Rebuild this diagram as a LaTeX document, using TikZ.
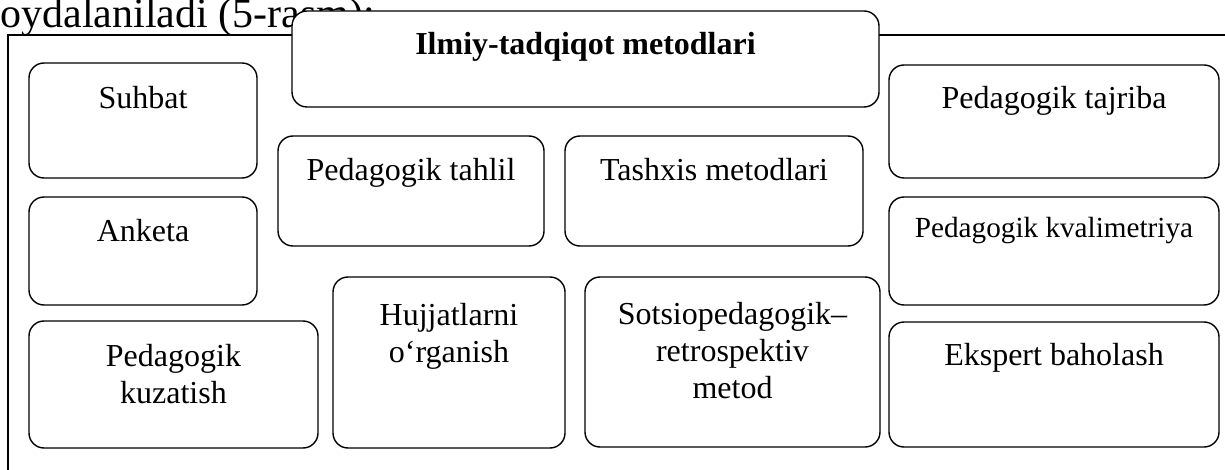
\documentclass[tikz,border=0pt]{standalone}
\usepackage{fontspec}
\setmainfont{Liberation Serif}

\begin{document}
\begin{tikzpicture}[x=0.5pt,y=-0.5pt,
  mbox/.style={draw,line width=0.7pt,rounded corners=7.5pt,fill=white,inner sep=0pt},
  lbl/.style={anchor=base,align=center,inner sep=0pt,font=\fontsize{16}{18.5}\selectfont}]
  \def\wide{1225};
  \def\high{470};
  \useasboundingbox (0,0) rectangle (\wide,\high);
  \clip (0,0) rectangle (\wide,\high);

  \node[anchor=base west,inner sep=0pt,font=\fontsize{21}{25}\selectfont] (lead) at (-14,28) {foydalaniladi (5-rasm):};
  \draw[line width=0.6pt] (8,{\high+10}) -- (8,35) -- ({\wide+10},35);

  \foreach \nm/\xa/\ya/\xb/\yb in {title/292/11/879/107, suhbat/29/63/257/178, anketa/29/197/257/305,
      tahlil/278/136/544/246, tashxis/565/136/863/246, kuzatish/29/321/318/448, hujjat/333/277/565/448,
      sotsio/585/277/880/447, tajriba/889/65/1219/178, kvalim/889/197/1219/305, ekspert/889/322/1219/447} { %for each of the rounded boxes
    \node[mbox,minimum width={(\xb-\xa)*0.5pt},minimum height={(\yb-\ya)*0.5pt}] (\nm) at ({(\xa+\xb)/2},{(\ya+\yb)/2}) {};
  }

  \foreach \nm/\base/\txt in {suhbat/109/Suhbat, anketa/242/Anketa, tahlil/181/Pedagogik tahlil,
      tashxis/181/Tashxis metodlari, kuzatish/403/Pedagogik\\kuzatish, hujjat/362/Hujjatlarni\\o‘rganish,
      sotsio/398/Sotsiopedagogik–\\retrospektiv\\metod, tajriba/109/Pedagogik tajriba,
      ekspert/365/Ekspert baholash} { %for each of the box labels (base = last line)
    \node[lbl] (\nm-text) at (\nm.north |- 0,\base) {\txt};
  }
  \node[lbl,font=\fontsize{16}{18.5}\selectfont\bfseries] (title-text) at (title.north |- 0,55) {Ilmiy-tadqiqot metodlari};
  \node[lbl,font=\fontsize{14.6}{17}\selectfont] (kvalim-text) at (kvalim.north |- 0,238) {Pedagogik kvalimetriya};
\end{tikzpicture}
\end{document}
